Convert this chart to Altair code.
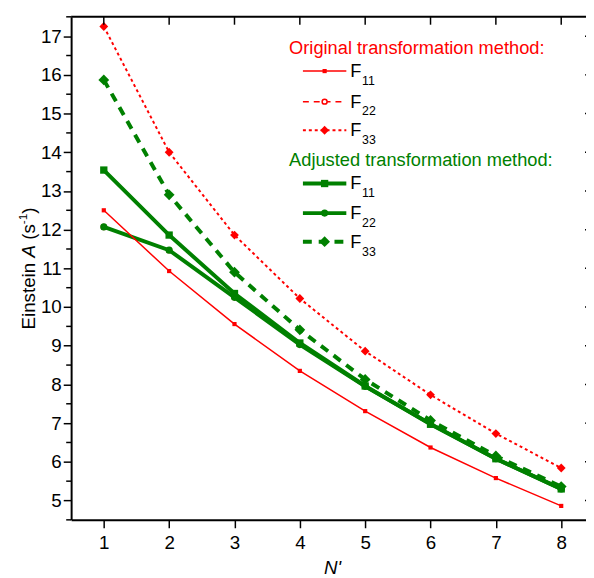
import altair as alt
import pandas as pd

# ---- data ----
N = [1, 2, 3, 4, 5, 6, 7, 8]
orig_F11 = [12.50, 10.93, 9.56, 8.35, 7.31, 6.37, 5.58, 4.86]
orig_F22 = [12.07, 11.47, 10.25, 9.03, 7.95, 6.98, 6.08, 5.30]
orig_F33 = [17.25, 14.00, 11.86, 10.22, 8.86, 7.73, 6.73, 5.84]
adj_F11 = [13.54, 11.86, 10.35, 9.07, 7.96, 6.97, 6.08, 5.30]
adj_F22 = [12.07, 11.47, 10.25, 9.03, 7.95, 6.98, 6.08, 5.30]
adj_F33 = [15.87, 12.90, 10.90, 9.41, 8.13, 7.07, 6.15, 5.36]

x_ticks = [1, 2, 3, 4, 5, 6, 7, 8]
y_ticks = [5, 6, 7, 8, 9, 10, 11, 12, 13, 14, 15, 16, 17]
y_minor = [4.5, 5.5, 6.5, 7.5, 8.5, 9.5, 10.5, 11.5, 12.5, 13.5, 14.5, 15.5, 16.5, 17.5]

header_orig = "Original transformation method:"
header_adj = "Adjusted transformation method:"
item_main = "F"
item_subs = ["11", "22", "33"]

RED = "#ff0000"
GREEN = "#008000"
FONT = "Liberation Sans"
LBL = 19

xs = alt.Scale(domain=[0.5, 8.5], range=[0, 530], nice=False, zero=False)
ys = alt.Scale(domain=[4.5, 17.5], nice=False, zero=False)

xaxis = alt.Axis(values=x_ticks, title=None, grid=False, labelFont=FONT, labelFontSize=LBL,
                 labelColor="black", tickSize=8, tickWidth=1.5, tickColor="black",
                 domainColor="black", domainWidth=2, labelPadding=6, format="d")
yaxis = alt.Axis(values=y_ticks, title=None, grid=False, labelFont=FONT, labelFontSize=LBL,
                 labelColor="black", tickSize=8, tickWidth=1.5, tickColor="black",
                 domainColor="black", domainWidth=2, labelPadding=2, format="d")


def X(f):
    return alt.X(f, scale=xs, axis=xaxis)


def Y(f):
    return alt.Y(f, scale=ys, axis=yaxis)


series = [
    # values, color, width, dash, shape, size, filled, fill, marker stroke
    (orig_F22, RED, 1.5, [6, 5], "circle", 25, False, "white", 1.5),
    (adj_F22, GREEN, 4, None, "circle", 14, False, "white", 3.5),
    (adj_F11, GREEN, 4, None, "square", 55, True, GREEN, 0),
    (adj_F33, GREEN, 4, [9, 7], "diamond", 120, True, GREEN, 0),
    (orig_F11, RED, 1.5, None, "square", 18, True, RED, 0),
    (orig_F33, RED, 2, [3, 3], "diamond", 80, True, RED, 0),
]

layers = []
for vals, col, w, dash, shape, size, filled, fill, sw in series:
    df = pd.DataFrame({"N": N, "A": vals})
    lk = dict(color=col, strokeWidth=w)
    if dash:
        lk["strokeDash"] = dash
    layers.append(alt.Chart(df).mark_line(**lk).encode(x=X("N:Q"), y=Y("A:Q")))
    pk = dict(shape=shape, size=size, filled=filled, color=col, opacity=1)
    if not filled:
        pk["fill"] = fill
        pk["strokeWidth"] = sw
    layers.append(alt.Chart(df).mark_point(**pk).encode(x=X("N:Q"), y=Y("A:Q")))

# minor y ticks (outward)
layers.append(alt.Chart(pd.DataFrame({"v": y_minor})).mark_rule(color="black", strokeWidth=1.5)
              .encode(y=Y("v:Q"), x=alt.value(-5), x2=alt.value(0)))
# right-side inward major ticks
layers.append(alt.Chart(pd.DataFrame({"v": y_ticks})).mark_rule(color="black", strokeWidth=1.5)
              .encode(y=Y("v:Q"), x=alt.value(521), x2=alt.value(530)))
# top frame line and inward ticks
layers.append(alt.Chart(pd.DataFrame({"v": x_ticks})).mark_rule(color="black", strokeWidth=1.5)
              .encode(x=X("v:Q"), y=alt.value(0), y2=alt.value(8)))
layers.append(alt.Chart(pd.DataFrame({"v": [0]})).mark_rule(color="black", strokeWidth=2)
              .encode(x=alt.value(0), x2=alt.value(530), y=alt.value(0)))

one = pd.DataFrame({"v": [0]})


def txt(s, x, y, size=18.5, color="black", **kw):
    return alt.Chart(one).mark_text(text=s, font=FONT, fontSize=size, color=color,
                                    align=kw.pop("align", "left"),
                                    baseline=kw.pop("baseline", "middle"), **kw).encode(
        x=alt.value(x), y=alt.value(y))


# legend
layers.append(txt(header_orig, 221, 32, color=RED))
layers.append(txt(header_adj, 221, 145, color=GREEN))
leg_rows = [
    (55, RED, 1.5, None, "square", 18, True, "white", 0, 0),
    (86, RED, 1.5, [6, 5], "circle", 25, False, "white", 1.5, 1),
    (115, RED, 2, [3, 3], "diamond", 80, True, "white", 0, 2),
    (169, GREEN, 4, None, "square", 55, True, "white", 0, 0),
    (199, GREEN, 4, None, "circle", 14, False, "white", 3.5, 1),
    (228, GREEN, 4, [9, 7], "diamond", 120, True, "white", 0, 2),
]
for y, col, w, dash, shape, size, filled, fill, sw, si in leg_rows:
    rk = dict(color=col, strokeWidth=w)
    if dash:
        rk["strokeDash"] = dash
    layers.append(alt.Chart(one).mark_rule(**rk).encode(
        x=alt.value(235), x2=alt.value(279), y=alt.value(y)))
    pk = dict(shape=shape, size=size, filled=filled, color=col, opacity=1)
    if not filled:
        pk["fill"] = fill
        pk["strokeWidth"] = sw
    layers.append(alt.Chart(one).mark_point(**pk).encode(x=alt.value(257), y=alt.value(y)))
    layers.append(txt(item_main, 283, y))
    layers.append(txt(item_subs[si], 295, y + 10, size=12.5))

# y title: Einstein A (s^-1)
TX = -37
Y0 = 317
layers.append(txt("Einstein", TX, Y0, size=19, angle=270, baseline="alphabetic"))
layers.append(txt("A", TX, Y0 - 72.9, size=19, angle=270, baseline="alphabetic", fontStyle="italic"))
layers.append(txt("(s", TX, Y0 - 90.9, size=19, angle=270, baseline="alphabetic"))
layers.append(txt("-1", TX - 8, Y0 - 106.7, size=12, angle=270, baseline="alphabetic"))
layers.append(txt(")", TX, Y0 - 117.4, size=19, angle=270, baseline="alphabetic"))
# x title: N'
layers.append(txt("N'", 265, 565, size=19, align="center", baseline="alphabetic", fontStyle="italic"))

chart = alt.layer(*layers).properties(
    width=522, height=510,
    autosize=alt.AutoSizeParams(type="none"),
    padding={"left": 64, "top": 5, "right": 0, "bottom": 55},
).configure_view(strokeWidth=0)

chart.save("out.html", embed_options={"renderer": "svg", "actions": False})
